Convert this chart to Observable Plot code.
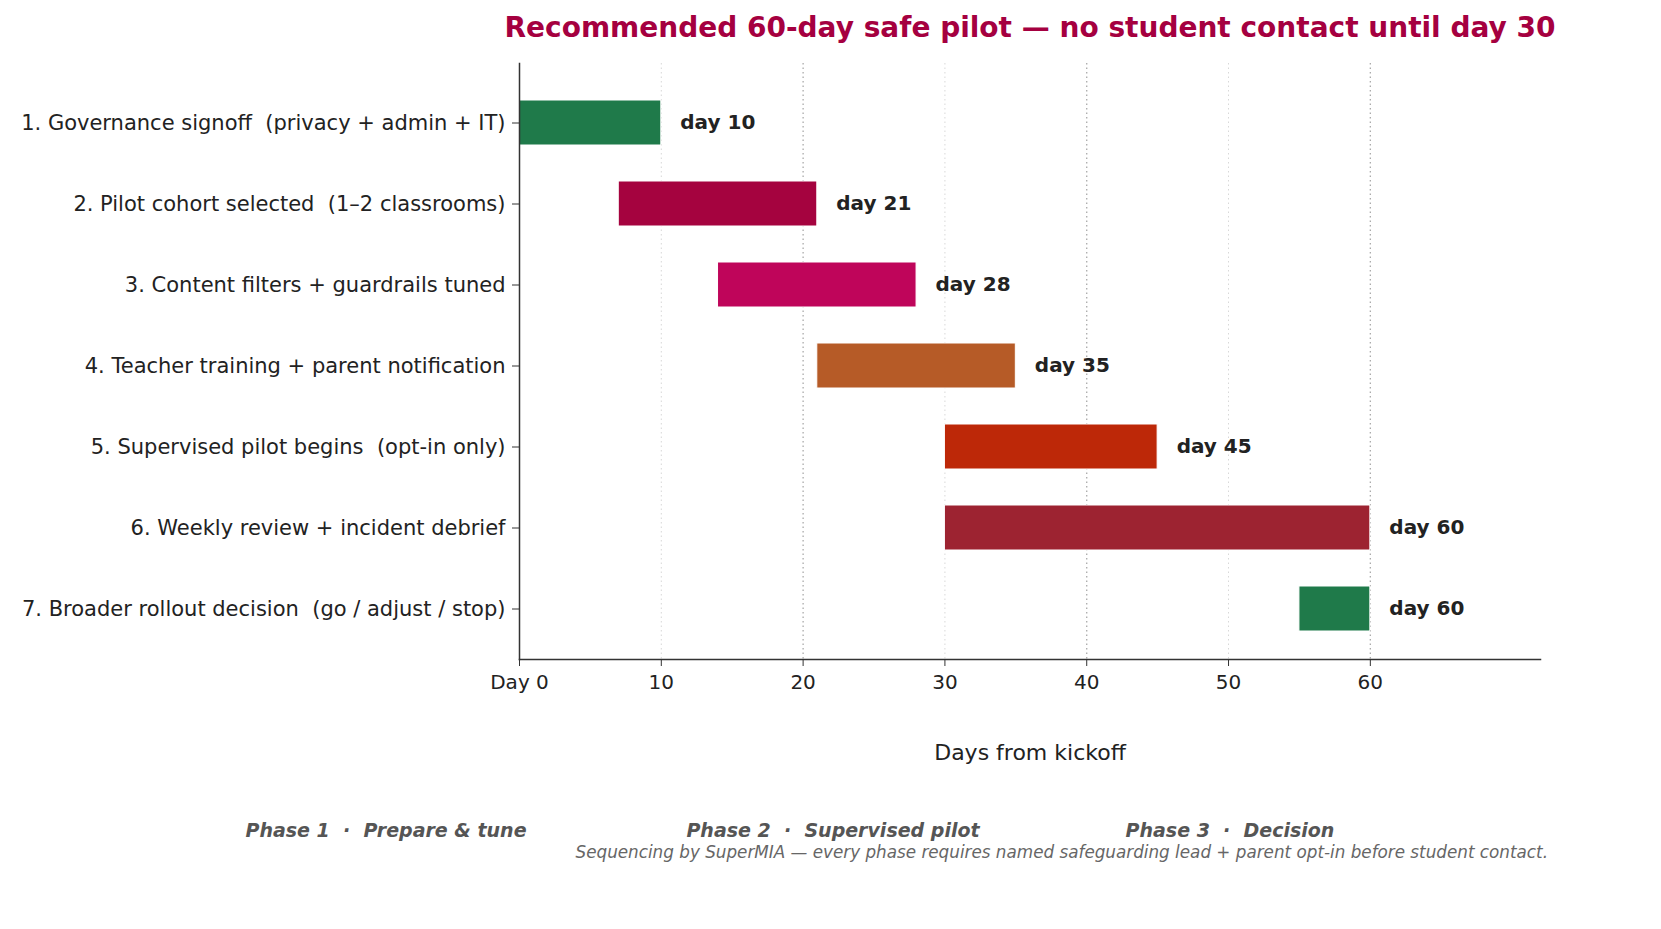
<!DOCTYPE html>
<html>
<head>
<meta charset="utf-8">
<script src="https://cdn.jsdelivr.net/npm/d3@7"></script>
<script src="https://cdn.jsdelivr.net/npm/@observablehq/plot@0.6"></script>
<style>
  html, body { margin: 0; padding: 0; background: #fff; }
  #wrap { position: relative; width: 1661px; height: 929px; font-family: "DejaVu Sans", sans-serif; }
  #chart { position: absolute; left: 0; top: 0; }
  #chart svg text { white-space: pre; }
  .abs { position: absolute; white-space: pre; line-height: 1; }
  #title { left: 330px; width: 1400px; top: 14px; text-align: center; font-size: 28px; font-weight: bold; color: #a50040; }
  #xlabel { left: 730px; width: 600px; top: 742px; text-align: center; font-size: 22px; color: #222; }
  .phase { width: 600px; text-align: center; top: 821px; font-size: 19px; font-weight: bold; font-style: italic; color: #555; }
  #caption { right: 113px; top: 844px; font-size: 16.8px; font-style: italic; color: #666; }
</style>
</head>
<body>
<div id="wrap">
  <div id="chart"></div>
  <div id="title" class="abs"></div>
  <div id="xlabel" class="abs"></div>
  <div id="phases"></div>
  <div id="caption" class="abs"></div>
</div>
<script>
const title = "Recommended 60-day safe pilot — no student contact until day 30";
const tasks = [
  "1. Governance signoff  (privacy + admin + IT)",
  "2. Pilot cohort selected  (1–2 classrooms)",
  "3. Content filters + guardrails tuned",
  "4. Teacher training + parent notification",
  "5. Supervised pilot begins  (opt-in only)",
  "6. Weekly review + incident debrief",
  "7. Broader rollout decision  (go / adjust / stop)"
];
const starts = [0, 7, 14, 21, 30, 30, 55];
const ends = [10, 21, 28, 35, 45, 60, 60];
const colors = ["#1f7a4a", "#a5033f", "#bf055a", "#b65b27", "#bd2808", "#9d2331", "#1f7a4a"];
const xTicks = [0, 10, 20, 30, 40, 50, 60];
const majorGrid = [20, 40, 60];
const minorGrid = [10, 30, 50];
const xLabel = "Days from kickoff";
const phases = ["Phase 1  ·  Prepare & tune", "Phase 2  ·  Supervised pilot", "Phase 3  ·  Decision"];
const phaseCenters = [386, 833, 1230];
const caption = "Sequencing by SuperMIA — every phase requires named safeguarding lead + parent opt-in before student contact.";

const data = tasks.map((t, i) => ({task: t, start: starts[i], end: ends[i], color: colors[i]}));

const chart = Plot.plot({
  width: 1661,
  height: 775,
  marginTop: 63,
  marginLeft: 519,
  marginRight: 121,
  marginBottom: 116,
  style: {fontFamily: "DejaVu Sans, sans-serif", color: "#222", background: "#fff"},
  x: {domain: [0, 72]},
  y: {domain: tasks, range: [98.5, 631.5], paddingInner: 0.447, paddingOuter: 0},
  color: {type: "identity"},
  marks: [
    Plot.ruleX(minorGrid, {stroke: "#d8d8d8", strokeWidth: 1, strokeDasharray: "1.5,3"}),
    Plot.ruleX(majorGrid, {stroke: "#aaaaaa", strokeWidth: 1.3, strokeDasharray: "1.5,3"}),
    Plot.barX(data, {x1: "start", x2: "end", y: "task", fill: "color", stroke: "white", strokeWidth: 1}),
    Plot.text(data, {x: "end", y: "task", text: d => "day " + d.end, textAnchor: "start", dx: 19, fontSize: 20, fontWeight: "bold", fill: "#222"}),
    Plot.frame({anchor: "left", stroke: "#333", strokeWidth: 1.5}),
    Plot.frame({anchor: "bottom", stroke: "#333", strokeWidth: 1.5}),
    Plot.axisY({tickSize: 7, tickPadding: 7, fontSize: 21, label: null, stroke: "#333", fill: "#222"}),
    Plot.axisX({ticks: xTicks, tickSize: 7, tickPadding: 8, fontSize: 20, tickFormat: d => d === 0 ? "Day 0" : String(d),
      label: null, stroke: "#333", fill: "#222"})
  ]
});
document.getElementById("chart").appendChild(chart);
document.getElementById("title").textContent = title;
document.getElementById("xlabel").textContent = xLabel;
document.getElementById("caption").textContent = caption;
const ph = document.getElementById("phases");
phases.forEach((p, i) => {
  const d = document.createElement("div");
  d.className = "abs phase";
  d.style.left = (phaseCenters[i] - 300) + "px";
  d.textContent = p;
  ph.appendChild(d);
});
</script>
</body>
</html>
